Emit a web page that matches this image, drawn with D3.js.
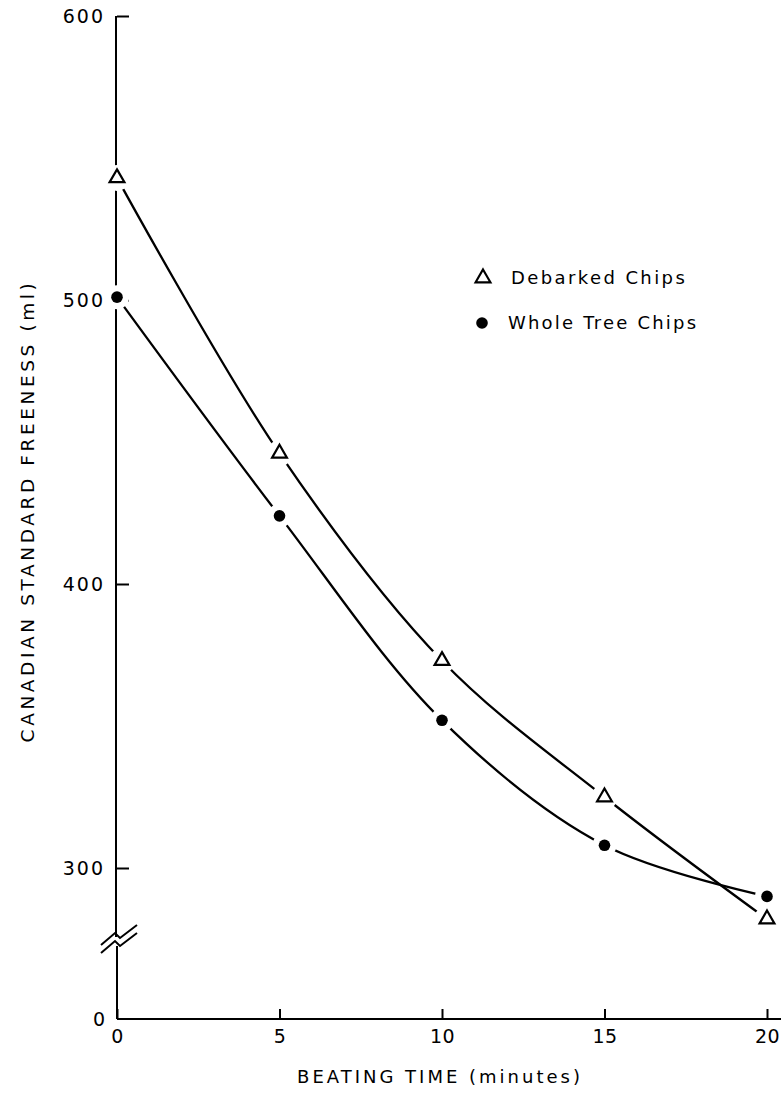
<!DOCTYPE html>
<html>
<head>
<meta charset="utf-8">
<script src="https://cdn.jsdelivr.net/npm/d3@7"></script>
<style>
  html, body { margin: 0; padding: 0; background: #fff; }
  svg { display: block; }
  text { font-family: "DejaVu Sans", sans-serif; fill: #000; }
</style>
</head>
<body>
<svg id="chart" width="783" height="1095"></svg>
<script>
// ---- data ----
const beatingTime = [0, 5, 10, 15, 20];
const debarkedChips = [543, 446, 373, 325, 282];
const wholeTreeChips = [501, 424, 352, 308, 290];
const xTickValues = [0, 5, 10, 15, 20];
const yTickValues = [300, 400, 500, 600];
const seriesNames = ["Debarked Chips", "Whole Tree Chips"];
const xTitle = "BEATING TIME (minutes)";
const yTitle = "CANADIAN STANDARD FREENESS (ml)";

// ---- layout ----
const svg = d3.select("#chart");
const x0 = 117, x1 = 767;
const baseY = 1019;           // x-axis baseline (value 0, below axis break)
const x = d3.scaleLinear().domain([0, 20]).range([x0, x1]);
const y = d3.scaleLinear().domain([300, 600]).range([868, 16]);

const ink = "#000";

// x axis
const xAxis = svg.append("g").attr("transform", `translate(0,${baseY})`)
  .call(d3.axisBottom(x).tickValues(xTickValues).tickSize(-10).tickPadding(9)
        .tickFormat(d3.format("d")));
xAxis.select(".domain").remove();
xAxis.selectAll(".tick line").attr("stroke", ink).attr("stroke-width", 2);
xAxis.selectAll(".tick text").style("font-size", "19px").attr("dy", "0.78em")
  .style("letter-spacing", "0.5px").attr("fill", ink);
svg.append("line").attr("x1", x0).attr("x2", 781).attr("y1", baseY).attr("y2", baseY)
  .attr("stroke", ink).attr("stroke-width", 2);

// y axis
const yAxis = svg.append("g").attr("transform", `translate(${x0},0)`)
  .call(d3.axisLeft(y).tickValues(yTickValues).tickSize(-12).tickPadding(12)
        .tickFormat(d3.format("d")));
yAxis.select(".domain").remove();
yAxis.selectAll(".tick line").attr("stroke", ink).attr("stroke-width", 2);
yAxis.selectAll(".tick text").style("font-size", "19px").style("letter-spacing", "2px")
  .attr("fill", ink);

// y axis line with break
const breakTop = 937, breakBot = 946;
svg.append("line").attr("x1", x0 - 1).attr("x2", x0 - 1).attr("y1", y(600)).attr("y2", breakTop)
  .attr("stroke", ink).attr("stroke-width", 2);
svg.append("line").attr("x1", x0).attr("x2", x0).attr("y1", breakBot).attr("y2", baseY)
  .attr("stroke", ink).attr("stroke-width", 2);
const zig = (dy) => `M${x0-16},${945+dy} L${x0-2},${933+dy} L${x0+3},${938+dy} L${x0+20},${925+dy}`;
svg.append("path").attr("d", zig(0)).attr("fill", "none").attr("stroke", ink).attr("stroke-width", 2);
svg.append("path").attr("d", zig(8)).attr("fill", "none").attr("stroke", ink).attr("stroke-width", 2);

// "0" label at baseline of y axis
svg.append("text").attr("x", x0 - 12).attr("y", baseY).attr("dy", "0.35em")
  .attr("text-anchor", "end").style("font-size", "19px").text("0");

// titles
svg.append("text").attr("x", 440).attr("y", 1083).attr("text-anchor", "middle")
  .style("font-size", "18px").style("letter-spacing", "3px").text(xTitle);
svg.append("text").attr("transform", "translate(34,511) rotate(-90)")
  .attr("text-anchor", "middle").style("font-size", "18.5px").style("letter-spacing", "3.6px")
  .text(yTitle);

// curves
const line = d3.line().curve(d3.curveCatmullRom.alpha(0.5));
const ptsD = beatingTime.map((t, i) => [x(t), y(debarkedChips[i])]);
const ptsW = beatingTime.map((t, i) => [x(t), y(wholeTreeChips[i])]);
[ptsD, ptsW].forEach(p => {
  svg.append("path").attr("d", line(p)).attr("fill", "none")
    .attr("stroke", ink).attr("stroke-width", 2.3);
});

// markers
const tri = d3.symbol().type(d3.symbolTriangle).size(95);
// white halos to create gaps
ptsD.forEach(p => {
  svg.append("circle").attr("cx", p[0]).attr("cy", p[1]).attr("r", 13).attr("fill", "#fff");
});
ptsW.forEach(p => {
  svg.append("circle").attr("cx", p[0]).attr("cy", p[1]).attr("r", 12).attr("fill", "#fff");
});
ptsD.forEach(p => {
  svg.append("path").attr("d", tri()).attr("transform", `translate(${p[0]},${p[1]})`)
    .attr("fill", "#fff").attr("stroke", ink).attr("stroke-width", 2.2);
});
ptsW.forEach(p => {
  svg.append("circle").attr("cx", p[0]).attr("cy", p[1]).attr("r", 5.8).attr("fill", ink);
});

// legend
const leg = svg.append("g");
leg.append("path").attr("d", tri()).attr("transform", "translate(483,278)")
  .attr("fill", "#fff").attr("stroke", ink).attr("stroke-width", 2.2);
leg.append("text").attr("x", 511).attr("y", 278).attr("dy", "0.35em")
  .style("font-size", "18px").style("letter-spacing", "2.4px").text(seriesNames[0]);
leg.append("circle").attr("cx", 482).attr("cy", 323).attr("r", 5.8).attr("fill", ink);
leg.append("text").attr("x", 508).attr("y", 323).attr("dy", "0.35em")
  .style("font-size", "18px").style("letter-spacing", "2.2px").text(seriesNames[1]);
</script>
</body>
</html>
